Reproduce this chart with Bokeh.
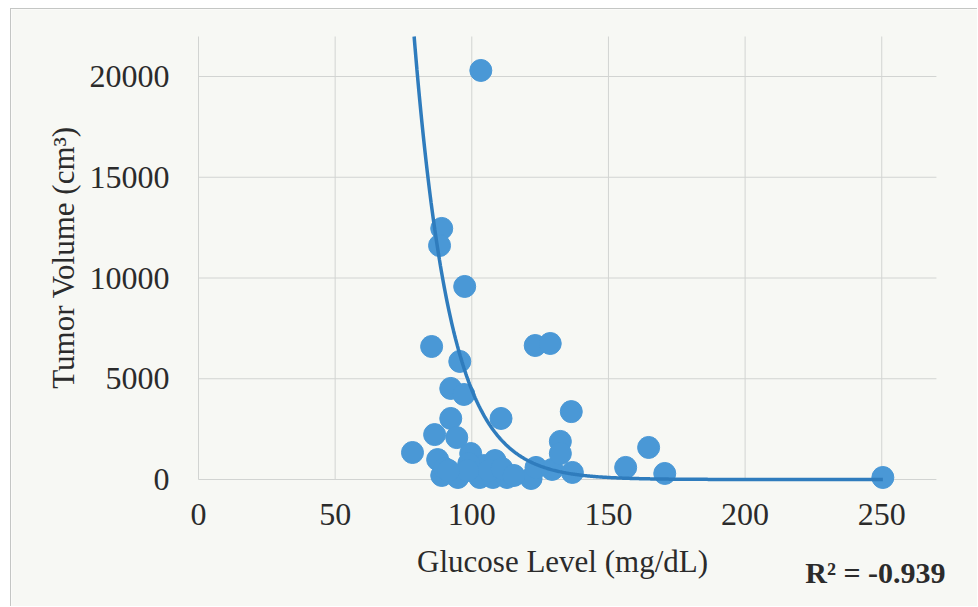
import numpy as np
from bokeh.plotting import figure
from bokeh.models import Range1d, FixedTicker, Label
from bokeh.embed import file_html
from bokeh.resources import INLINE

# ---- data ----
glucose = [103.3, 89.0, 88.2, 97.4, 85.3, 95.6, 123.2, 128.7, 92.3, 97.1,
           136.4, 110.7, 92.3, 86.4, 94.5, 78.3, 87.5, 99.6, 104.4, 108.5,
           89.0, 94.9, 102.9, 107.7, 112.9, 121.7, 123.5, 129.4, 132.4, 132.4,
           136.8, 156.3, 164.7, 170.6, 250.4, 98.9, 98.5, 106.3, 111.0, 90.1,
           115.4, 91.5]
tumor_volume = [20300, 12460, 11610, 9580, 6600, 5860, 6650, 6750, 4520, 4220,
                3370, 3030, 3030, 2230, 2080, 1340, 990, 1290, 690, 940,
                200, 100, 100, 100, 100, 50, 600, 500, 1890, 1290,
                350, 600, 1590, 300, 100, 790, 450, 450, 550, 550,
                200, 450]

# exponential trendline coefficients: V = A * exp(-k * G)
trend_A = 8.63e6
trend_k = 0.0757

x_ticks = [0, 50, 100, 150, 200, 250]
y_ticks = [0, 5000, 10000, 15000, 20000]
x_label = "Glucose Level (mg/dL)"
y_label = "Tumor Volume (cm\u00b3)"
r2_text = "R\u00b2 = -0.939"

# ---- styling ----
BG = "#f7f8f4"
TXT = "#2b2b2b"
GRID = "#d2d4d2"
DOT = "#4a98d6"
LINE = "#2f7cbd"
FONT = "Liberation Serif"

# plot-area extent (data units) and whole-canvas view window
plot_x_end = 270
plot_y_end = 21985
view_x = (-68.42, 285.4)
view_y = (-6352, 23325)

p = figure(width=967, height=598, output_backend="svg", toolbar_location=None,
           x_range=Range1d(*view_x), y_range=Range1d(*view_y),
           min_border=0, min_border_left=0, min_border_right=0,
           min_border_top=0, min_border_bottom=0,
           background_fill_color=BG, border_fill_color=BG)
p.margin = (8, 0, 0, 10)
p.styles = {"border-left": "1px solid #c4c6c4", "border-top": "1px solid #c4c6c4"}
p.outline_line_color = None
p.grid.visible = False

# grid lines drawn from the tick arrays
p.segment(x0=x_ticks, y0=[0] * len(x_ticks), x1=x_ticks, y1=[plot_y_end] * len(x_ticks),
          line_color=GRID, line_width=1)
p.segment(x0=[0] * len(y_ticks), y0=y_ticks, x1=[plot_x_end] * len(y_ticks), y1=y_ticks,
          line_color=GRID, line_width=1)

# scatter
p.scatter(glucose, tumor_volume, size=22, fill_color=DOT, line_color=DOT, alpha=1.0)

# trendline over the data range, cut where it leaves the top of the plot area
x_start = max(min(glucose), np.log(trend_A / plot_y_end) / trend_k)
gx = np.linspace(x_start, max(glucose), 500)
gy = trend_A * np.exp(-trend_k * gx)
p.line(gx, gy, line_color=LINE, line_width=3.5)

# axes (placed at the data origin)
for ax in (p.xaxis, p.yaxis):
    ax.axis_line_color = None
    ax.major_tick_line_color = None
    ax.minor_tick_line_color = None
    ax.major_label_text_font = FONT
    ax.major_label_text_font_size = "32px"
    ax.major_label_text_color = TXT

p.xaxis.ticker = FixedTicker(ticks=x_ticks)
p.yaxis.ticker = FixedTicker(ticks=y_ticks)
p.xaxis.fixed_location = 0
p.yaxis.fixed_location = 0
p.xaxis.major_label_standoff = 18
p.yaxis.major_label_standoff = 23

# axis titles and R^2 note
p.add_layout(Label(x=133.2, y=-4080, text=x_label, text_font=FONT, text_font_size="31px",
                   text_color=TXT, text_align="center", text_baseline="middle"))
p.add_layout(Label(x=-49.4, y=11017, text=y_label, text_font=FONT, text_font_size="31px",
                   text_color=TXT, text_align="center", text_baseline="middle",
                   angle=np.pi / 2))
p.add_layout(Label(x=222, y=-4615, text=r2_text, text_font=FONT, text_font_size="30px",
                   text_font_style="bold", text_color=TXT, text_baseline="middle",
                   text_align="left"))

open("out.html", "w").write(file_html(p, INLINE))
